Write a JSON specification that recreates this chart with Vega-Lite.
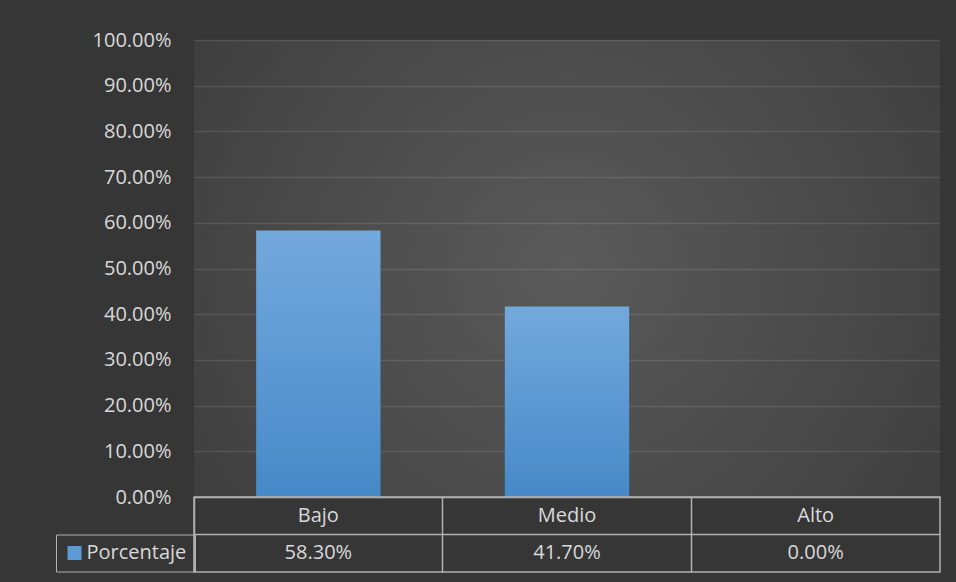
{
  "$schema": "https://vega.github.io/schema/vega-lite/v6.json",
  "background": "#363636",
  "padding": {"left": 55, "top": 30, "right": 17, "bottom": 10},
  "config": {
    "font": "Open Sans",
    "view": {"stroke": null},
    "axis": {"labelFont": "Open Sans"},
    "legend": {"labelFont": "Open Sans"}
  },
  "data": {
    "values": [
      {"Nivel": "Bajo", "Porcentaje": 0.583},
      {"Nivel": "Medio", "Porcentaje": 0.417},
      {"Nivel": "Alto", "Porcentaje": 0.0}
    ]
  },
  "spacing": 0,
  "bounds": "flush",
  "resolve": {"scale": {"x": "independent", "y": "independent", "color": "independent"}},
  "vconcat": [
    {
      "width": 746,
      "height": 457,
      "view": {
        "stroke": null,
        "fill": {
          "gradient": "radial",
          "x1": 0.5, "y1": 0.5, "r1": 0,
          "x2": 0.5, "y2": 0.5, "r2": 0.75,
          "stops": [
            {"offset": 0, "color": "#5a5a5a"},
            {"offset": 0.67, "color": "#434343"},
            {"offset": 1, "color": "#363636"}
          ]
        }
      },
      "encoding": {
        "x": {
          "field": "Nivel", "type": "nominal", "sort": ["Bajo", "Medio", "Alto"],
          "scale": {"type": "band", "paddingInner": 0.5, "paddingOuter": 0.25},
          "axis": null
        },
        "y": {
          "field": "Porcentaje", "type": "quantitative",
          "scale": {"domain": [0, 1], "nice": false},
          "axis": {
            "title": null,
            "values": [0, 0.1, 0.2, 0.3, 0.4, 0.5, 0.6, 0.7, 0.8, 0.9, 1],
            "format": ".2%",
            "domain": false,
            "ticks": false,
            "labelPadding": 23,
            "labelFontSize": 20,
            "labelColor": "#d9d9d9",
            "grid": true,
            "gridColor": "#ffffff",
            "gridOpacity": 0.1,
            "gridWidth": 1.5
          }
        }
      },
      "layer": [
        {
          "mark": {
            "type": "bar",
            "color": {
              "gradient": "linear",
              "x1": 0, "y1": 0, "x2": 0, "y2": 1,
              "stops": [
                {"offset": 0, "color": "#73a9dd"},
                {"offset": 1, "color": "#4689c8"}
              ]
            }
          }
        },
        {
          "mark": {"type": "bar", "opacity": 0},
          "encoding": {
            "color": {
              "datum": "Porcentaje", "type": "nominal",
              "scale": {"range": ["#5c9bd6"]},
              "legend": {
                "title": null,
                "orient": "none",
                "legendX": -138,
                "legendY": 494.5,
                "symbolType": "square",
                "symbolSize": 196,
                "symbolStrokeWidth": 0,
                "symbolOpacity": 1,
                "labelFontSize": 20,
                "labelColor": "#d9d9d9",
                "labelOffset": 2,
                "padding": 8.5,
                "strokeColor": "#b0b0b0"
              }
            }
          }
        }
      ]
    },
    {
      "width": 746,
      "height": 75,
      "view": {"stroke": "#b0b0b0", "strokeWidth": 1.5, "fill": null},
      "encoding": {
        "x": {
          "field": "Nivel", "type": "nominal", "sort": ["Bajo", "Medio", "Alto"],
          "scale": {"type": "band", "paddingInner": 0, "paddingOuter": 0},
          "axis": {
            "title": null, "labels": false, "ticks": false, "domain": false,
            "grid": true, "bandPosition": 0,
            "gridColor": "#b0b0b0", "gridWidth": 1.5, "gridOpacity": 1
          }
        }
      },
      "layer": [
        {
          "mark": {"type": "text", "fontSize": 20, "color": "#d9d9d9", "font": "Open Sans"},
          "encoding": {
            "y": {
              "datum": "Nivel", "type": "nominal",
              "scale": {"type": "band", "domain": ["Nivel", "Porcentaje"], "paddingInner": 0, "paddingOuter": 0},
              "axis": {
                "title": null, "labels": false, "ticks": false, "domain": false,
                "grid": true, "bandPosition": 0,
                "gridColor": "#b0b0b0", "gridWidth": 1.5, "gridOpacity": 1
              }
            },
            "text": {"field": "Nivel"}
          }
        },
        {
          "mark": {"type": "text", "fontSize": 20, "color": "#d9d9d9", "font": "Open Sans"},
          "encoding": {
            "y": {"datum": "Porcentaje", "type": "nominal"},
            "text": {"field": "Porcentaje", "format": ".2%"}
          }
        }
      ]
    }
  ]
}
